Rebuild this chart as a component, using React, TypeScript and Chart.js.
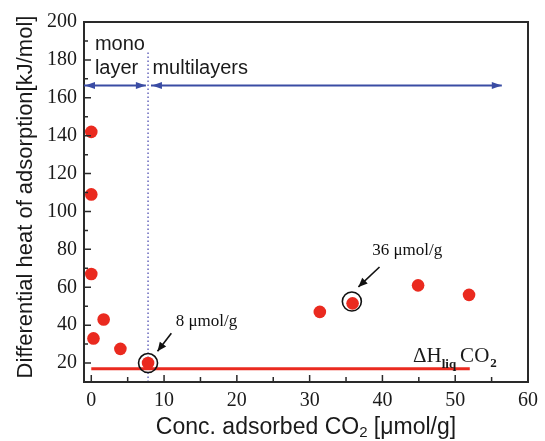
import { useEffect, useRef } from "react";
import { Chart, registerables } from "chart.js";

Chart.register(...registerables);

// Measured differential heats of CO2 adsorption
const concentration = [0, 0, 0, 0.3, 1.7, 4.0, 7.8, 31.4, 35.9, 44.9, 51.9];
const diffHeat = [142, 109, 67, 33, 43, 27.5, 20, 47, 51.5, 61, 56];

// Heat of liquefaction of CO2 (reference line)
const liqHeat = 17;
const liqRange = [0, 52];

// Monolayer / multilayer boundary
const monolayerLimit = 7.8;
const boundaryRange = [10, 185];

// Region arrows (x from, x to) at a fixed heat level
const regionArrowLevel = 166.5;
const monoArrow = [-1, 7.5];
const multiArrow = [8.2, 56.4];

// Axis ticks
const xTicks = [0, 10, 20, 30, 40, 50, 60];
const xMinorTicks = [5, 15, 25, 35, 45, 55];
const yTicks = [20, 40, 60, 80, 100, 120, 140, 160, 180, 200];
const yMinorTicks = [10, 30, 50, 70, 90, 110, 130, 150, 170, 190];

// Highlighted points
const highlightX = [7.8, 35.8];
const highlightY = [20, 52.5];
const highlightText = ["8 \u03bcmol/g", "36 \u03bcmol/g"];

const RED = "#ea2a1f";
const BLUE = "#3a4ca4";
const INK = "#1a1a1a";

function arrowHead(ctx: CanvasRenderingContext2D, x1: number, y1: number, x2: number, y2: number, len: number, half: number) {
  const a = Math.atan2(y2 - y1, x2 - x1);
  ctx.beginPath();
  ctx.moveTo(x2, y2);
  ctx.lineTo(x2 - len * Math.cos(a) + half * Math.sin(a), y2 - len * Math.sin(a) - half * Math.cos(a));
  ctx.lineTo(x2 - len * Math.cos(a) - half * Math.sin(a), y2 - len * Math.sin(a) + half * Math.cos(a));
  ctx.closePath();
  ctx.fill();
}

const decorations = {
  id: "decorations",
  afterDatasetsDraw(chart: any) {
    const { ctx, chartArea: a, scales } = chart;
    const xs = scales.x;
    const ys = scales.y;
    const px = (v: number) => xs.getPixelForValue(v);
    const py = (v: number) => ys.getPixelForValue(v);
    ctx.save();

    // frame
    ctx.strokeStyle = "#2a2a2a";
    ctx.lineWidth = 2;
    ctx.strokeRect(a.left, a.top, a.right - a.left, a.bottom - a.top);

    // inward ticks on the left and bottom axes
    ctx.lineWidth = 1.5;
    ctx.beginPath();
    yTicks.forEach((v) => { ctx.moveTo(a.left, py(v)); ctx.lineTo(a.left + 7, py(v)); });
    yMinorTicks.forEach((v) => { ctx.moveTo(a.left, py(v)); ctx.lineTo(a.left + 4, py(v)); });
    xTicks.forEach((v) => { ctx.moveTo(px(v), a.bottom); ctx.lineTo(px(v), a.bottom - 7); });
    xMinorTicks.forEach((v) => { ctx.moveTo(px(v), a.bottom); ctx.lineTo(px(v), a.bottom - 5); });
    ctx.stroke();

    // region arrows
    ctx.strokeStyle = BLUE;
    ctx.fillStyle = BLUE;
    ctx.lineWidth = 2;
    const ay = py(regionArrowLevel);
    [monoArrow, multiArrow].forEach((r) => {
      const x1 = px(r[0]);
      const x2 = px(r[1]);
      ctx.beginPath();
      ctx.moveTo(x1, ay);
      ctx.lineTo(x2, ay);
      ctx.stroke();
      arrowHead(ctx, x2, ay, x1 + 1, ay, 10, 3.5);
      arrowHead(ctx, x1, ay, x2, ay, 10, 3.5);
    });

    // region labels
    ctx.fillStyle = INK;
    ctx.font = "20px 'Liberation Sans', Arial, sans-serif";
    ctx.textBaseline = "alphabetic";
    ctx.textAlign = "left";
    ctx.fillText("mono", px(0.5), py(185));
    ctx.fillText("layer", px(0.5), py(172.5));
    ctx.fillText("multilayers", px(8.4), py(172.5));

    // highlighted points: rings, pointers and labels
    ctx.strokeStyle = "#111";
    ctx.fillStyle = "#111";
    ctx.lineWidth = 1.6;
    const ptrTail = [[11.0, 35.7], [39.6, 70.7]];
    const ptrHead = [[9.1, 26.2], [36.7, 60.2]];
    const textAt = [[11.6, 39.4], [38.6, 76.9]];
    ctx.font = "17px 'Liberation Serif', 'Times New Roman', serif";
    highlightX.forEach((hx, i) => {
      ctx.beginPath();
      ctx.arc(px(hx), py(highlightY[i]), 9.5, 0, Math.PI * 2);
      ctx.stroke();
      const tx = px(ptrTail[i][0]);
      const ty = py(ptrTail[i][1]);
      const hx2 = px(ptrHead[i][0]);
      const hy2 = py(ptrHead[i][1]);
      ctx.beginPath();
      ctx.moveTo(tx, ty);
      ctx.lineTo(hx2, hy2);
      ctx.stroke();
      arrowHead(ctx, tx, ty, hx2, hy2, 9, 4);
      ctx.fillText(highlightText[i], px(textAt[i][0]), py(textAt[i][1]));
    });

    // ΔH_liq CO2 label
    let x = px(44.2);
    const base = py(20.8);
    ctx.fillStyle = INK;
    ctx.font = "21px 'Liberation Serif', 'Times New Roman', serif";
    ctx.fillText("\u0394H", x, base);
    x += ctx.measureText("\u0394H").width;
    ctx.font = "bold 13px 'Liberation Serif', 'Times New Roman', serif";
    ctx.fillText("liq", x, base + 6);
    x += ctx.measureText("liq").width + 4;
    ctx.font = "21px 'Liberation Serif', 'Times New Roman', serif";
    ctx.fillText("CO", x, base);
    x += ctx.measureText("CO").width;
    ctx.font = "bold 13px 'Liberation Serif', 'Times New Roman', serif";
    ctx.fillText("2", x + 1, base + 5);

    // axis titles
    ctx.fillStyle = INK;
    const sans = "'Liberation Sans', Arial, sans-serif";
    const p1 = "Conc. adsorbed CO";
    const p2 = "2";
    const p3 = " [\u03bcmol/g]";
    ctx.font = `23px ${sans}`;
    const w1 = ctx.measureText(p1).width;
    const w3 = ctx.measureText(p3).width;
    ctx.font = `15px ${sans}`;
    const w2 = ctx.measureText(p2).width;
    const tx0 = (a.left + a.right) / 2 - (w1 + w2 + w3) / 2;
    const tb = 434;
    ctx.font = `23px ${sans}`;
    ctx.fillText(p1, tx0, tb);
    ctx.font = `15px ${sans}`;
    ctx.fillText(p2, tx0 + w1, tb + 3);
    ctx.font = `23px ${sans}`;
    ctx.fillText(p3, tx0 + w1 + w2, tb);

    ctx.translate(32, 197);
    ctx.rotate(-Math.PI / 2);
    ctx.textAlign = "center";
    ctx.font = `22px ${sans}`;
    ctx.fillText("Differential heat of adsorption[kJ/mol]", 0, 0);
    ctx.restore();
  },
};

export default function App() {
  const canvasRef = useRef<HTMLCanvasElement | null>(null);

  useEffect(() => {
    const canvas = canvasRef.current;
    if (!canvas) return;
    const chart = new Chart(canvas, {
      type: "scatter",
      data: {
        datasets: [
          {
            label: "Differential heat",
            data: concentration.map((c, i) => ({ x: c, y: diffHeat[i] })),
            backgroundColor: RED,
            borderColor: RED,
            pointRadius: 6.3,
            pointBorderWidth: 0,
            order: 1,
          },
          {
            type: "line",
            label: "\u0394H liq CO2",
            data: liqRange.map((c) => ({ x: c, y: liqHeat })),
            borderColor: RED,
            borderWidth: 3,
            pointRadius: 0,
            showLine: true,
            order: 2,
          },
          {
            type: "line",
            label: "Monolayer limit",
            data: boundaryRange.map((h) => ({ x: monolayerLimit, y: h })),
            borderColor: "#5d5db8",
            borderWidth: 1.4,
            borderDash: [1.5, 2.5],
            pointRadius: 0,
            showLine: true,
            order: 3,
          },
        ],
      },
      options: {
        animation: false,
        responsive: false,
        layout: { padding: { left: 0, top: 22, right: 12, bottom: 0 } },
        plugins: { legend: { display: false }, tooltip: { enabled: false } },
        scales: {
          x: {
            type: "linear",
            min: -1,
            max: 60,
            grid: { display: false, drawTicks: false },
            border: { display: false },
            afterBuildTicks: (s: any) => { s.ticks = xTicks.map((v) => ({ value: v })); },
            afterFit: (s: any) => { s.height = 59; },
            ticks: {
              padding: 7,
              color: INK,
              font: { family: "'Liberation Serif', 'Times New Roman', serif", size: 20 },
            },
          },
          y: {
            type: "linear",
            min: 10,
            max: 200,
            grid: { display: false, drawTicks: false },
            border: { display: false },
            afterBuildTicks: (s: any) => { s.ticks = yTicks.map((v) => ({ value: v })); },
            afterFit: (s: any) => { s.width = 84; },
            ticks: {
              padding: 7,
              color: INK,
              font: { family: "'Liberation Serif', 'Times New Roman', serif", size: 20 },
            },
          },
        },
      },
      plugins: [decorations],
    });
    return () => chart.destroy();
  }, []);

  return (
    <div style={{ position: "fixed", left: 0, top: 0, width: 545, height: 441, background: "#fff" }}>
      <canvas ref={canvasRef} width={545} height={441} style={{ width: 545, height: 441 }} />
    </div>
  );
}
